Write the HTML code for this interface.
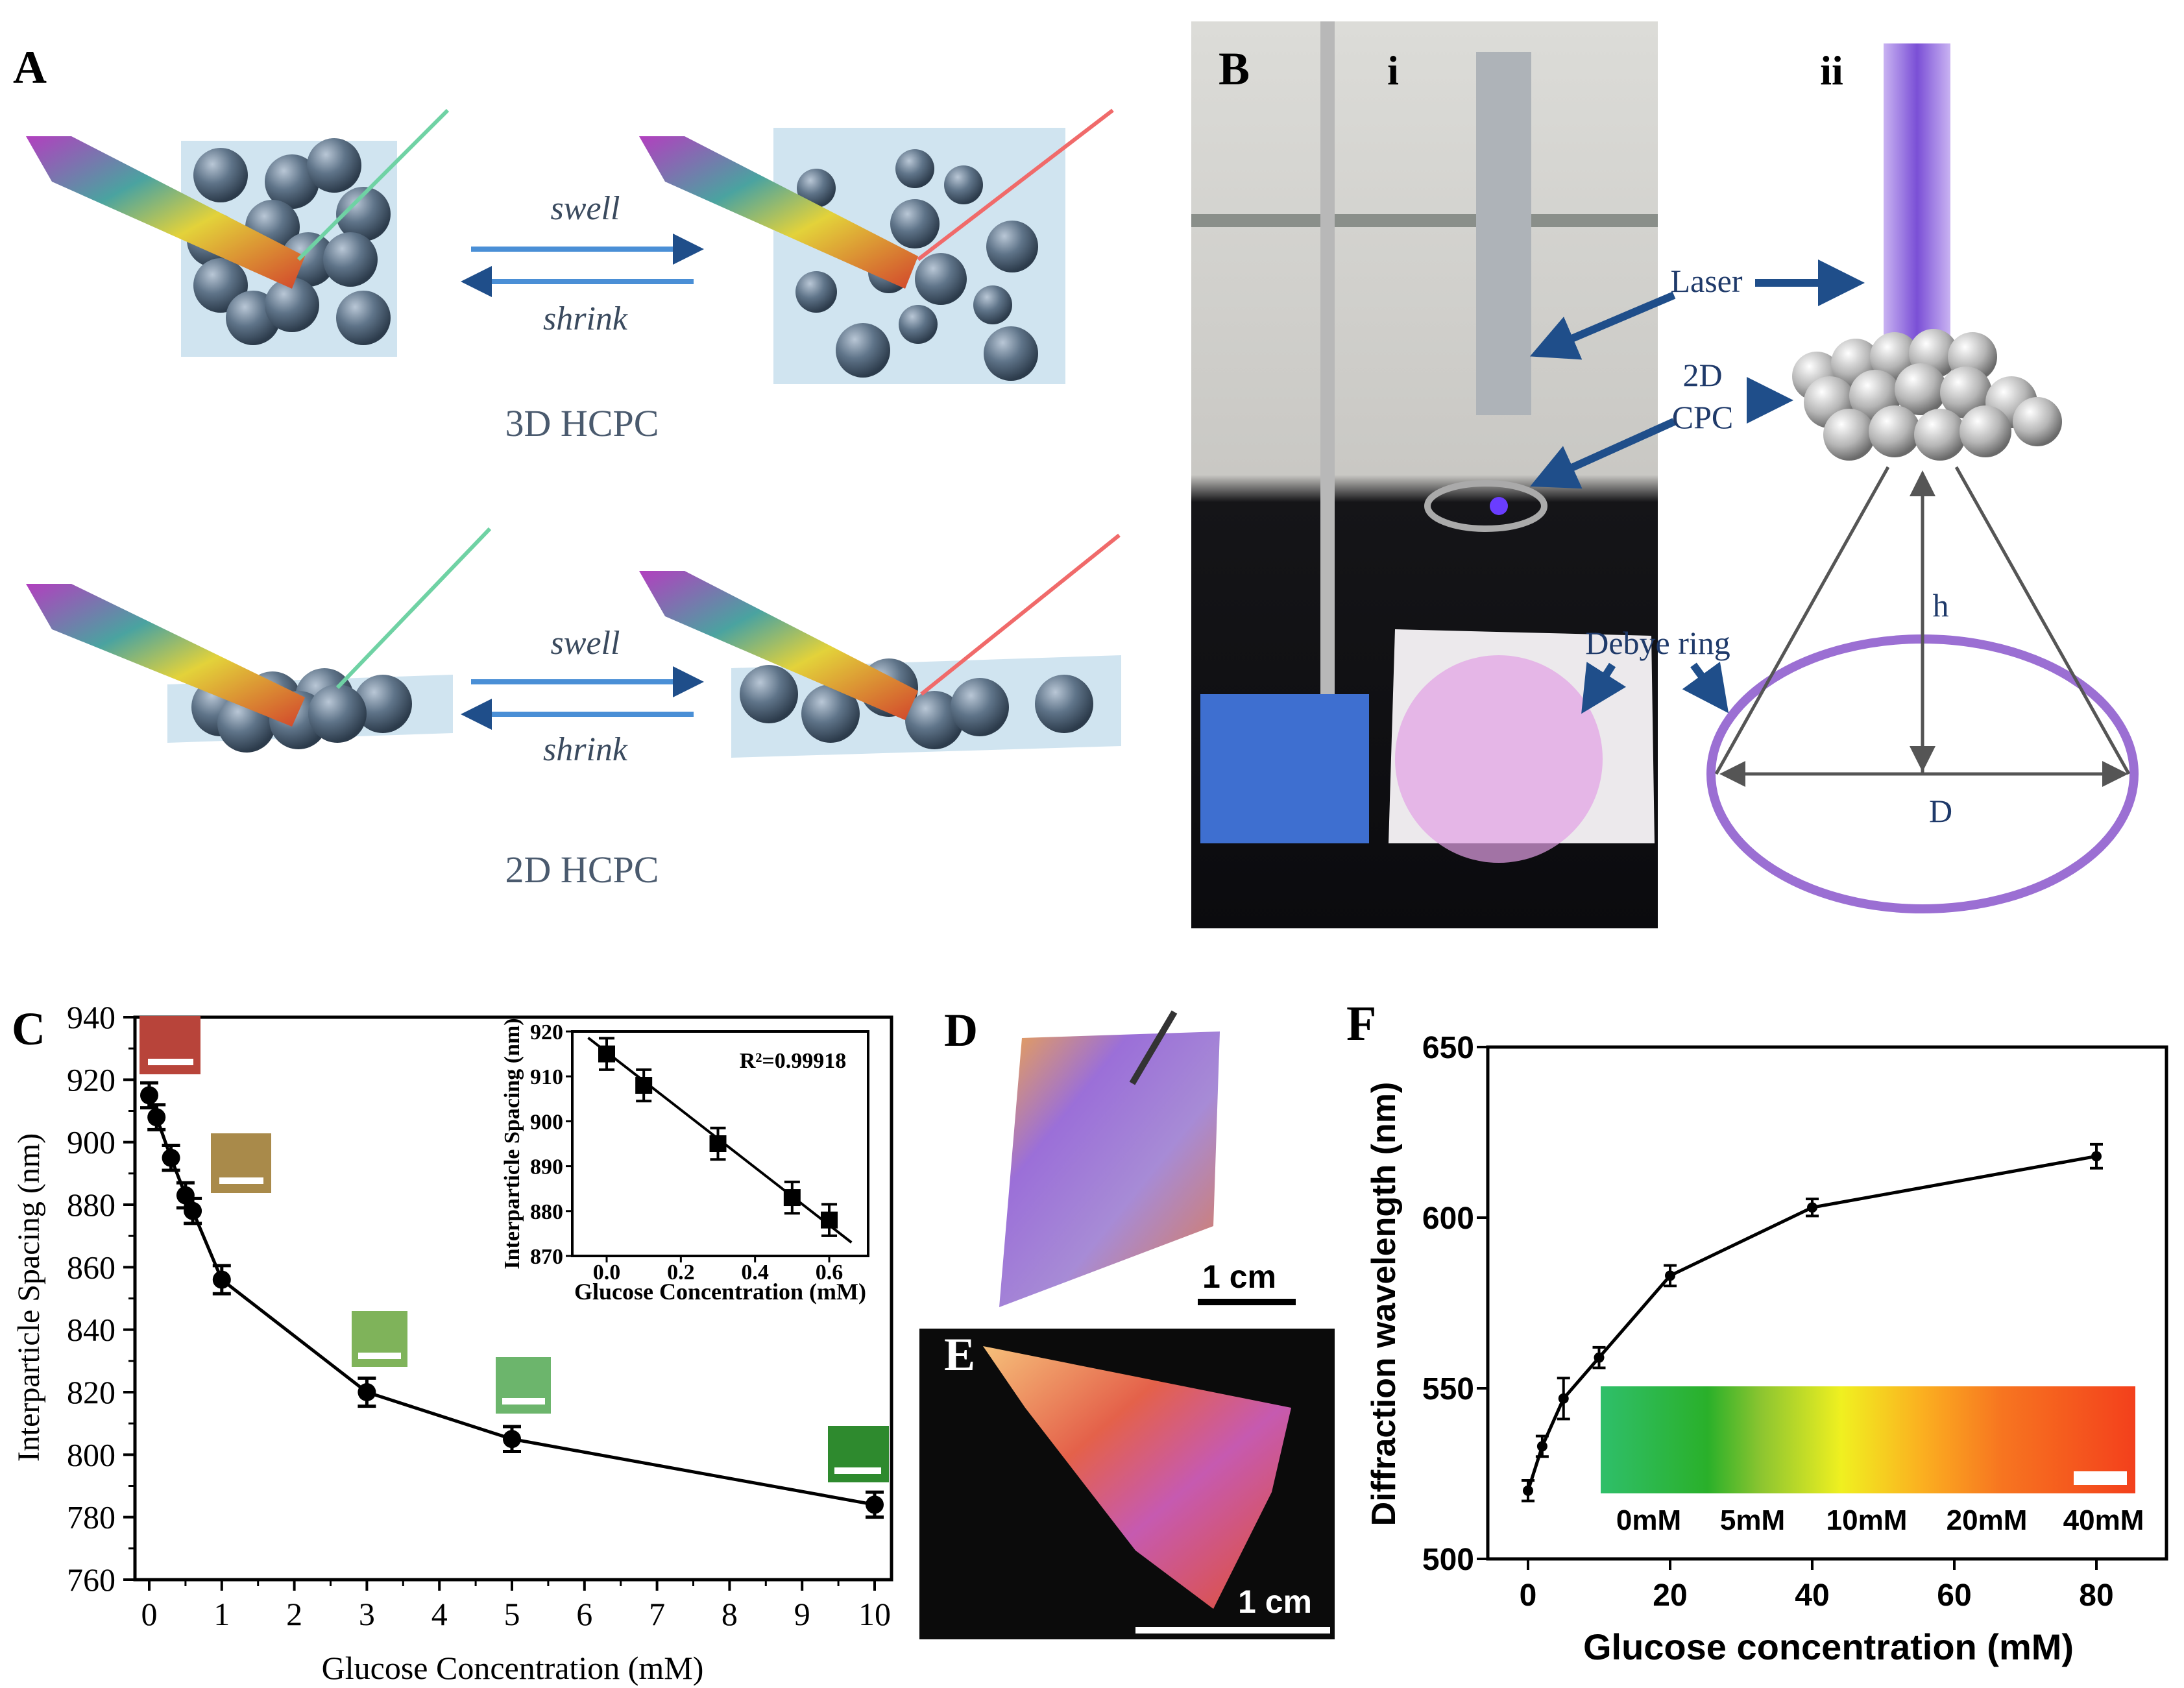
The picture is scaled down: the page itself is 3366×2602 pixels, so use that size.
<!DOCTYPE html>
<html><head><meta charset="utf-8"><style>
html,body{margin:0;padding:0;background:#fff}
svg{display:block}
.serif{font-family:"Liberation Serif",serif}
.sans{font-family:"Liberation Sans",sans-serif}
</style></head><body>
<svg id="fig" width="3366" height="2602" viewBox="0 0 3366 2602" xmlns="http://www.w3.org/2000/svg">
<defs>
<radialGradient id="sph" cx="35%" cy="30%" r="70%"><stop offset="0" stop-color="#b9c7d6"/><stop offset="0.5" stop-color="#5f7489"/><stop offset="1" stop-color="#2c3b4b"/></radialGradient>
<radialGradient id="sphw" cx="35%" cy="30%" r="70%"><stop offset="0" stop-color="#ffffff"/><stop offset="0.6" stop-color="#b5b5b5"/><stop offset="1" stop-color="#6a6a6a"/></radialGradient>
<linearGradient id="rain" x1="0" y1="0" x2="1" y2="1"><stop offset="0" stop-color="#b23fbf"/><stop offset="0.35" stop-color="#4aa3a0"/><stop offset="0.6" stop-color="#e3d23a"/><stop offset="1" stop-color="#d2452c"/></linearGradient>
<linearGradient id="beam" x1="0" y1="0" x2="1" y2="0"><stop offset="0" stop-color="#c9b3f2"/><stop offset="0.5" stop-color="#7a4fd6"/><stop offset="1" stop-color="#c9b3f2"/></linearGradient>
<linearGradient id="photoB" x1="0" y1="0" x2="0" y2="1"><stop offset="0" stop-color="#dcdcd8"/><stop offset="0.5" stop-color="#c9c8c4"/><stop offset="0.53" stop-color="#151518"/><stop offset="1" stop-color="#0b0b0e"/></linearGradient>
<linearGradient id="opalD" x1="0" y1="0" x2="1" y2="1"><stop offset="0" stop-color="#f0a54a"/><stop offset="0.3" stop-color="#9b6fd8"/><stop offset="0.6" stop-color="#a78bd6"/><stop offset="1" stop-color="#e07a4a"/></linearGradient>
<linearGradient id="opalE" x1="0" y1="0" x2="1" y2="1"><stop offset="0" stop-color="#f6c07a"/><stop offset="0.35" stop-color="#e4614a"/><stop offset="0.6" stop-color="#c65ab0"/><stop offset="1" stop-color="#e2502c"/></linearGradient>
<linearGradient id="strip" x1="0" y1="0" x2="1" y2="0"><stop offset="0" stop-color="#2fbf6a"/><stop offset="0.2" stop-color="#2ab02a"/><stop offset="0.3" stop-color="#8cc530"/><stop offset="0.45" stop-color="#f0f020"/><stop offset="0.6" stop-color="#fbb020"/><stop offset="0.75" stop-color="#f77520"/><stop offset="1" stop-color="#f3401c"/></linearGradient>
<marker id="ahB" markerWidth="6" markerHeight="6" refX="4" refY="3" orient="auto"><path d="M0,0 L6,3 L0,6 z" fill="#1f4e8a"/></marker>
<marker id="ahG" markerWidth="8" markerHeight="8" refX="6" refY="4" orient="auto"><path d="M0,0 L8,4 L0,8 z" fill="#555"/></marker>
</defs>

<!-- Panel A -->
<g>
<text class="serif" x="20" y="128" font-size="72" font-weight="bold">A</text>
<rect x="279" y="217" width="333" height="333" fill="#bcd9ea" opacity="0.7"/>
<rect x="1192" y="197" width="450" height="395" fill="#bcd9ea" opacity="0.7"/>
<g fill="url(#sph)">
<circle cx="340" cy="270" r="42"/><circle cx="450" cy="280" r="42"/><circle cx="515" cy="255" r="42"/><circle cx="560" cy="330" r="42"/>
<circle cx="330" cy="370" r="42"/><circle cx="420" cy="350" r="42"/><circle cx="475" cy="400" r="42"/><circle cx="540" cy="400" r="42"/>
<circle cx="340" cy="440" r="42"/><circle cx="390" cy="490" r="42"/><circle cx="450" cy="470" r="42"/><circle cx="560" cy="490" r="42"/></g>
<g fill="url(#sph)">
<circle cx="1258" cy="290" r="30"/><circle cx="1410" cy="345" r="38"/><circle cx="1485" cy="285" r="30"/><circle cx="1410" cy="260" r="30"/><circle cx="1560" cy="380" r="40"/>
<circle cx="1258" cy="450" r="32"/><circle cx="1370" cy="420" r="32"/><circle cx="1450" cy="430" r="40"/><circle cx="1530" cy="470" r="30"/>
<circle cx="1415" cy="500" r="30"/><circle cx="1330" cy="540" r="42"/><circle cx="1558" cy="545" r="42"/></g>
<polygon points="40,210 110,210 470,395 450,445 80,280" fill="url(#rain)"/>
<polygon points="985,210 1055,210 1415,395 1395,445 1025,280" fill="url(#rain)"/>
<line x1="460" y1="400" x2="690" y2="170" stroke="#6fd2a4" stroke-width="6"/>
<line x1="1415" y1="400" x2="1715" y2="170" stroke="#f06a6a" stroke-width="6"/>
<line x1="726" y1="384" x2="1069" y2="384" stroke="#4a8fd6" stroke-width="8" marker-end="url(#ahB)"/>
<line x1="1069" y1="434" x2="726" y2="434" stroke="#4a8fd6" stroke-width="8" marker-end="url(#ahB)"/>
<text class="serif" x="902" y="338" font-size="52" font-style="italic" fill="#3a4a5e" text-anchor="middle">swell</text>
<text class="serif" x="902" y="508" font-size="52" font-style="italic" fill="#3a4a5e" text-anchor="middle">shrink</text>
<text class="serif" x="897" y="672" font-size="58" fill="#4a5a6e" text-anchor="middle">3D HCPC</text>
<polygon points="258,1055 698,1040 698,1130 258,1145" fill="#bcd9ea" opacity="0.7"/>
<polygon points="1127,1030 1728,1010 1728,1150 1127,1168" fill="#bcd9ea" opacity="0.7"/>
<g fill="url(#sph)">
<circle cx="340" cy="1090" r="45"/><circle cx="420" cy="1080" r="45"/><circle cx="500" cy="1075" r="45"/><circle cx="590" cy="1085" r="45"/>
<circle cx="380" cy="1115" r="45"/><circle cx="460" cy="1110" r="45"/><circle cx="520" cy="1100" r="45"/></g>
<g fill="url(#sph)">
<circle cx="1185" cy="1070" r="45"/><circle cx="1280" cy="1100" r="45"/><circle cx="1370" cy="1060" r="45"/><circle cx="1440" cy="1110" r="45"/><circle cx="1510" cy="1090" r="45"/><circle cx="1640" cy="1085" r="45"/></g>
<polygon points="40,900 110,900 470,1075 450,1120 80,970" fill="url(#rain)"/>
<polygon points="985,880 1055,880 1415,1065 1395,1110 1025,950" fill="url(#rain)"/>
<line x1="520" y1="1060" x2="755" y2="815" stroke="#6fd2a4" stroke-width="6"/>
<line x1="1420" y1="1070" x2="1725" y2="825" stroke="#f06a6a" stroke-width="6"/>
<line x1="726" y1="1051" x2="1069" y2="1051" stroke="#4a8fd6" stroke-width="8" marker-end="url(#ahB)"/>
<line x1="1069" y1="1101" x2="726" y2="1101" stroke="#4a8fd6" stroke-width="8" marker-end="url(#ahB)"/>
<text class="serif" x="902" y="1008" font-size="52" font-style="italic" fill="#3a4a5e" text-anchor="middle">swell</text>
<text class="serif" x="902" y="1172" font-size="52" font-style="italic" fill="#3a4a5e" text-anchor="middle">shrink</text>
<text class="serif" x="897" y="1360" font-size="58" fill="#4a5a6e" text-anchor="middle">2D HCPC</text>
</g>

<!-- Panel B -->
<g>
<rect x="1836" y="33" width="719" height="1398" fill="url(#photoB)"/>
<rect x="1836" y="330" width="719" height="20" fill="#8a8f8a"/>
<rect x="2035" y="33" width="22" height="1150" fill="#b8b8b8"/>
<rect x="2275" y="80" width="85" height="560" fill="#aeb3b8"/>
<ellipse cx="2290" cy="780" rx="90" ry="35" fill="none" stroke="#aaa" stroke-width="10"/>
<circle cx="2310" cy="780" r="14" fill="#6a3dff"/>
<polygon points="2150,970 2545,980 2550,1300 2140,1300" fill="#ece9ec"/>
<circle cx="2310" cy="1170" r="160" fill="#e3a0e6" opacity="0.7"/>
<polygon points="1850,1070 2110,1070 2110,1300 1850,1300" fill="#3e6fd0"/>
<text class="serif" x="1878" y="130" font-size="72" font-weight="bold">B</text>
<text class="serif" x="2147" y="130" font-size="64" font-weight="bold" text-anchor="middle">i</text>
<text class="serif" x="2823" y="130" font-size="64" font-weight="bold" text-anchor="middle">ii</text>
<rect x="2903" y="67" width="103" height="483" fill="url(#beam)"/>
<g fill="url(#sphw)">
<circle cx="2800" cy="580" r="38"/><circle cx="2860" cy="560" r="38"/><circle cx="2920" cy="550" r="38"/><circle cx="2980" cy="545" r="38"/><circle cx="3040" cy="550" r="38"/>
<circle cx="2820" cy="620" r="40"/><circle cx="2890" cy="610" r="40"/><circle cx="2960" cy="600" r="40"/><circle cx="3030" cy="605" r="40"/><circle cx="3100" cy="620" r="40"/>
<circle cx="2850" cy="670" r="40"/><circle cx="2920" cy="665" r="40"/><circle cx="2990" cy="670" r="40"/><circle cx="3060" cy="665" r="40"/><circle cx="3140" cy="650" r="38"/></g>
<ellipse cx="2963" cy="1193" rx="326" ry="208" fill="none" stroke="#9b6fd3" stroke-width="14"/>
<line x1="2910" y1="720" x2="2645" y2="1193" stroke="#555" stroke-width="5"/>
<line x1="3015" y1="720" x2="3281" y2="1193" stroke="#555" stroke-width="5"/>
<line x1="2963" y1="1193" x2="2963" y2="735" stroke="#555" stroke-width="5" marker-end="url(#ahG)"/>
<line x1="2963" y1="735" x2="2963" y2="1180" stroke="#555" stroke-width="5" marker-end="url(#ahG)"/>
<line x1="2660" y1="1193" x2="3270" y2="1193" stroke="#555" stroke-width="5" marker-end="url(#ahG)"/>
<line x1="3270" y1="1193" x2="2660" y2="1193" stroke="#555" stroke-width="5" marker-end="url(#ahG)"/>
<g stroke="#1f4e8a" stroke-width="12">
<line x1="2705" y1="436" x2="2850" y2="436" marker-end="url(#ahB)"/>
<line x1="2580" y1="455" x2="2380" y2="540" marker-end="url(#ahB)"/>
<line x1="2580" y1="650" x2="2380" y2="740" marker-end="url(#ahB)"/>
<line x1="2695" y1="617" x2="2740" y2="617" marker-end="url(#ahB)"/>
<line x1="2485" y1="1025" x2="2450" y2="1080" marker-end="url(#ahB)"/>
<line x1="2610" y1="1025" x2="2650" y2="1080" marker-end="url(#ahB)"/>
</g>
<g class="serif" font-size="50" fill="#1f3a6a">
<text x="2630" y="450" text-anchor="middle">Laser</text>
<text x="2624" y="595" text-anchor="middle">2D</text>
<text x="2624" y="660" text-anchor="middle">CPC</text>
<text x="2555" y="1008" text-anchor="middle">Debye ring</text>
<text x="2991" y="950" text-anchor="middle">h</text>
<text x="2991" y="1267" text-anchor="middle">D</text>
</g>
</g>

<!-- Panel C -->
<g id="panelC">
<text class="serif" x="18" y="1610" font-size="72" font-weight="bold">C</text>
<rect x="208" y="1568" width="1166" height="867" fill="none" stroke="#000" stroke-width="5"/>
<rect x="215" y="1566" width="94" height="90" fill="#b8443a"/>
<rect x="325" y="1747" width="93" height="92" fill="#a98a4a"/>
<rect x="542" y="2021" width="86" height="86" fill="#7fb35a"/>
<rect x="764" y="2092" width="85" height="87" fill="#6cb56c"/>
<rect x="1276" y="2198" width="94" height="87" fill="#2e8a2e"/>
<g fill="#fff">
<rect x="228" y="1632" width="70" height="10"/><rect x="338" y="1815" width="68" height="10"/><rect x="552" y="2085" width="66" height="10"/><rect x="774" y="2155" width="66" height="10"/><rect x="1286" y="2262" width="72" height="10"/></g>
<text class="serif" x="60" y="2000" font-size="48" text-anchor="middle" transform="rotate(-90 60 2000)">Interparticle Spacing (nm)</text>
<text class="serif" x="790" y="2588" font-size="50" text-anchor="middle">Glucose Concentration (mM)</text>
<rect x="882" y="1590" width="456" height="346" fill="#fff" stroke="#000" stroke-width="4"/>
<text class="serif" x="1222" y="1646" font-size="34" font-weight="bold" text-anchor="middle">R²=0.99918</text>
<text class="serif" x="800" y="1763" font-size="34" font-weight="bold" text-anchor="middle" transform="rotate(-90 800 1763)">Interparticle Spacing (nm)</text>
<text class="serif" x="1110" y="2003" font-size="36" font-weight="bold" text-anchor="middle">Glucose Concentration (mM)</text>
</g>

<!-- Panel D & E -->
<g>
<text class="serif" x="1455" y="1612" font-size="72" font-weight="bold">D</text>
<polygon points="1575,1600 1880,1590 1870,1890 1540,2015" fill="url(#opalD)"/>
<line x1="1745" y1="1670" x2="1810" y2="1560" stroke="#333" stroke-width="10"/>
<text class="sans" x="1910" y="1985" font-size="50" font-weight="bold" text-anchor="middle">1 cm</text>
<rect x="1846" y="2002" width="151" height="10" fill="#000"/>
</g>
<g>
<rect x="1417" y="2048" width="640" height="479" fill="#0b0b0b"/>
<polygon points="1515,2075 1990,2170 1960,2300 1870,2480 1750,2390 1580,2170" fill="url(#opalE)"/>
<text class="serif" x="1455" y="2112" font-size="72" font-weight="bold" fill="#fff">E</text>
<text class="sans" x="1965" y="2486" font-size="50" font-weight="bold" fill="#fff" text-anchor="middle">1 cm</text>
<rect x="1750" y="2508" width="300" height="10" fill="#fff"/>
</g>

<!-- Panel F -->
<g id="panelF">
<text class="serif" x="2075" y="1603" font-size="76" font-weight="bold">F</text>
<rect x="2293" y="1614" width="1046" height="789" fill="none" stroke="#000" stroke-width="5"/>
<rect x="2467" y="2137" width="824" height="165" fill="url(#strip)"/>
<rect x="3196" y="2268" width="82" height="21" fill="#fff"/>
<g class="sans" font-size="44" font-weight="bold" text-anchor="middle">
<text x="2541" y="2358">0mM</text>
<text x="2701" y="2358">5mM</text>
<text x="2877" y="2358">10mM</text>
<text x="3062" y="2358">20mM</text>
<text x="3242" y="2358">40mM</text>
</g>
<text class="sans" x="2150" y="2010" font-size="52" font-weight="bold" text-anchor="middle" transform="rotate(-90 2150 2010)">Diffraction wavelength (nm)</text>
<text class="sans" x="2818" y="2558" font-size="56" font-weight="bold" text-anchor="middle">Glucose concentration (mM)</text>
</g>
</svg>
<script>
// Panel C data
const cX = [0, 0.1, 0.3, 0.5, 0.6, 1, 3, 5, 10];
const cY = [915, 908, 895, 883, 878, 856, 820, 805, 784];
const cErr = [4, 4, 4, 4, 4, 4.5, 4.5, 4, 4];
const cXTicks = [0,1,2,3,4,5,6,7,8,9,10];
const cYTicks = [760,780,800,820,840,860,880,900,920,940];
// Inset data
const inX = [0, 0.1, 0.3, 0.5, 0.6];
const inY = [915, 908, 895, 883, 878];
const inErr = [3.5, 3.5, 3.5, 3.5, 3.5];
const inXTicks = [0.0, 0.2, 0.4, 0.6];
const inYTicks = [870, 880, 890, 900, 910, 920];
const inFitX = [-0.05, 0.66];
const inFitY = [918.6, 873];
// Panel F data
const fX = [0, 2, 5, 10, 20, 40, 80];
const fY = [520, 533, 547, 559, 583, 603, 618];
const fErr = [3, 3, 6, 3, 3, 2.5, 3.5];
const fXTicks = [0, 20, 40, 60, 80];
const fYTicks = [500, 550, 600, 650];

const NS = 'http://www.w3.org/2000/svg';
function mk(parent, tag, attrs){const e=document.createElementNS(NS,tag);for(const k in attrs)e.setAttribute(k,attrs[k]);parent.appendChild(e);return e;}

const cx = v => 230 + v * 111.8;
const cy = v => 1568 + (940 - v) * (867 / 180);
const ix = v => 935 + v * 571.7;
const iy = v => 1590 + (920 - v) * (346 / 50);
const fx = v => 2355 + v * 10.95;
const fy = v => 1614 + (650 - v) * (789 / 150);

const C = document.getElementById('panelC');
const F = document.getElementById('panelF');

// C axes ticks
cXTicks.forEach(t => {
  const l = mk(C,'line',{x1:cx(t),x2:cx(t),y1:2435,y2:2452,stroke:'#000','stroke-width':4});
  
  
  if (t < 10) { const m = mk(C,'line',{x1:cx(t+0.5),x2:cx(t+0.5),y1:2435,y2:2445,stroke:'#000','stroke-width':3});
    
     }
  const tx = mk(C,'text',{x:cx(t),y:2505,'font-size':50,'text-anchor':'middle',class:'serif'});
  tx.textContent = t;
  
  
});
cYTicks.forEach(t => {
  const l = mk(C,'line',{x1:190,x2:208,y1:cy(t),y2:cy(t),stroke:'#000','stroke-width':4});
  
  
  if (t < 940) { const m = mk(C,'line',{x1:198,x2:208,y1:cy(t+10),y2:cy(t+10),stroke:'#000','stroke-width':3});
    
     }
  const tx = mk(C,'text',{x:178,y:cy(t)+17,'font-size':50,'text-anchor':'end',class:'serif'});
  tx.textContent = t;
  
  
});
// C line
const cLine = mk(C,'polyline',{points:cX.map((v,i)=>cx(v)+','+cy(cY[i])).join(' '),fill:'none',stroke:'#000','stroke-width':5});


cX.forEach((v,i) => {
  const x=cx(v), y1=cy(cY[i]+cErr[i]), y2=cy(cY[i]-cErr[i]);
  const e = mk(C,'path',{d:`M${x},${y1}V${y2}M${x-14},${y1}H${x+14}M${x-14},${y2}H${x+14}`,stroke:'#000','stroke-width':5,fill:'none'});
  
  
  const p = mk(C,'circle',{cx:x,cy:cy(cY[i]),r:14,fill:'#000'});
  
  
});
// Inset
inXTicks.forEach(t => {
  const l = mk(C,'line',{x1:ix(t),x2:ix(t),y1:1936,y2:1946,stroke:'#000','stroke-width':3});
  
  
  const tx = mk(C,'text',{x:ix(t),y:1972,'font-size':34,'font-weight':'bold','text-anchor':'middle',class:'serif'});
  tx.textContent = t.toFixed(1);
  
  
});
inYTicks.forEach(t => {
  const l = mk(C,'line',{x1:872,x2:882,y1:iy(t),y2:iy(t),stroke:'#000','stroke-width':3});
  
  
  const tx = mk(C,'text',{x:868,y:iy(t)+12,'font-size':34,'font-weight':'bold','text-anchor':'end',class:'serif'});
  tx.textContent = t;
  
  
});
const fit = mk(C,'line',{x1:ix(inFitX[0]),y1:iy(inFitY[0]),x2:ix(inFitX[1]),y2:iy(inFitY[1]),stroke:'#000','stroke-width':4});


inX.forEach((v,i) => {
  const x=ix(v), y1=iy(inY[i]+inErr[i]), y2=iy(inY[i]-inErr[i]);
  const e = mk(C,'path',{d:`M${x},${y1}V${y2}M${x-12},${y1}H${x+12}M${x-12},${y2}H${x+12}`,stroke:'#000','stroke-width':4,fill:'none'});
  
  
  const p = mk(C,'rect',{x:x-13,y:iy(inY[i])-13,width:26,height:26,fill:'#000'});
  
  
});
// Panel F
fXTicks.forEach(t => {
  const l = mk(F,'line',{x1:fx(t),x2:fx(t),y1:2403,y2:2420,stroke:'#000','stroke-width':4});
  
  
  const tx = mk(F,'text',{x:fx(t),y:2475,'font-size':48,'font-weight':'bold','text-anchor':'middle',class:'sans'});
  tx.textContent = t;
  
  
});
fYTicks.forEach(t => {
  const l = mk(F,'line',{x1:2276,x2:2293,y1:fy(t),y2:fy(t),stroke:'#000','stroke-width':4});
  
  
  const tx = mk(F,'text',{x:2272,y:fy(t)+17,'font-size':48,'font-weight':'bold','text-anchor':'end',class:'sans'});
  tx.textContent = t;
  
  
});
const fLine = mk(F,'polyline',{points:fX.map((v,i)=>fx(v)+','+fy(fY[i])).join(' '),fill:'none',stroke:'#000','stroke-width':5});


fX.forEach((v,i) => {
  const x=fx(v), y1=fy(fY[i]+fErr[i]), y2=fy(fY[i]-fErr[i]);
  const e = mk(F,'path',{d:`M${x},${y1}V${y2}M${x-10},${y1}H${x+10}M${x-10},${y2}H${x+10}`,stroke:'#000','stroke-width':4,fill:'none'});
  
  
  const p = mk(F,'circle',{cx:x,cy:fy(fY[i]),r:8,fill:'#000'});
  
  
});
</script>
</body></html>
